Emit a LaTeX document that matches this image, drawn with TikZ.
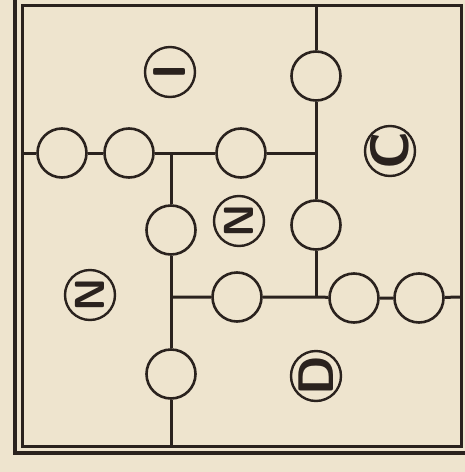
\documentclass[tikz,border=0pt]{standalone}
\usepackage{fontspec}
\definecolor{paper}{RGB}{238,228,206}
\definecolor{ink}{RGB}{42,34,30}
\begin{document}
\begin{tikzpicture}[x=1pt, y=-1pt, line width=3pt, color=ink,
    spot/.style={circle, draw=ink, fill=paper, line width=2.6pt, minimum size=49pt, inner sep=0pt},
    tag/.style={circle, draw=ink, fill=paper, line width=2.4pt, minimum size=50pt, inner sep=-10pt,
      rotate=90, text=ink, font=\sffamily\bfseries\fontsize{42}{42}\selectfont}]
    \fill[paper] (0,0) rectangle (465,472);
    \clip (0,0) rectangle (465,472);
    \draw[line width=4pt] (15,-6) rectangle (472,453);
    \draw (22,5) rectangle (461,446);
    \coordinate (top) at (316,5);
    \coordinate (west) at (22,153);
    \coordinate (east) at (461,297);
    \coordinate (bottom) at (171,446);
    \coordinate (ja) at (316,153);
    \coordinate (jb) at (316,297);
    \coordinate (jc) at (171,153);
    \coordinate (jd) at (171,297);
    \node[spot] (a1) at (316,76) {};
    \node[spot] (a2) at (316,225) {};
    \node[spot] (h1) at (62,153) {};
    \node[spot] (h2) at (129,153) {};
    \node[spot] (h3) at (241,153) {};
    \node[spot] (v1) at (171,230) {};
    \node[spot] (v2) at (171,374) {};
    \node[spot] (b1) at (237,297) {};
    \node[spot] (r1) at (354,298) {};
    \node[spot] (r2) at (419,298) {};
    \draw (top) -- (a1) -- (ja) -- (a2) -- (jb);
    \draw (west) -- (h1) -- (h2) -- (jc) -- (h3) -- (ja);
    \draw (jc) -- (v1) -- (jd) -- (v2) -- (bottom);
    \draw (jd) -- (b1) -- (jb) -- (r1) -- (r2) -- (east);
    \node[tag, font=\sffamily\bfseries\fontsize{46}{46}\selectfont] (one) at (170,72) {I};
    \node[tag, font=\sffamily\bfseries\fontsize{54}{54}\selectfont] (cee) at (390,151) {C};
    \node[tag] (inner) at (239,221) {N};
    \node[tag] (left) at (90,295) {N};
    \node[tag, font=\sffamily\bfseries\fontsize{50}{50}\selectfont] (dee) at (316,376) {D};
  \end{tikzpicture}
\end{document}
